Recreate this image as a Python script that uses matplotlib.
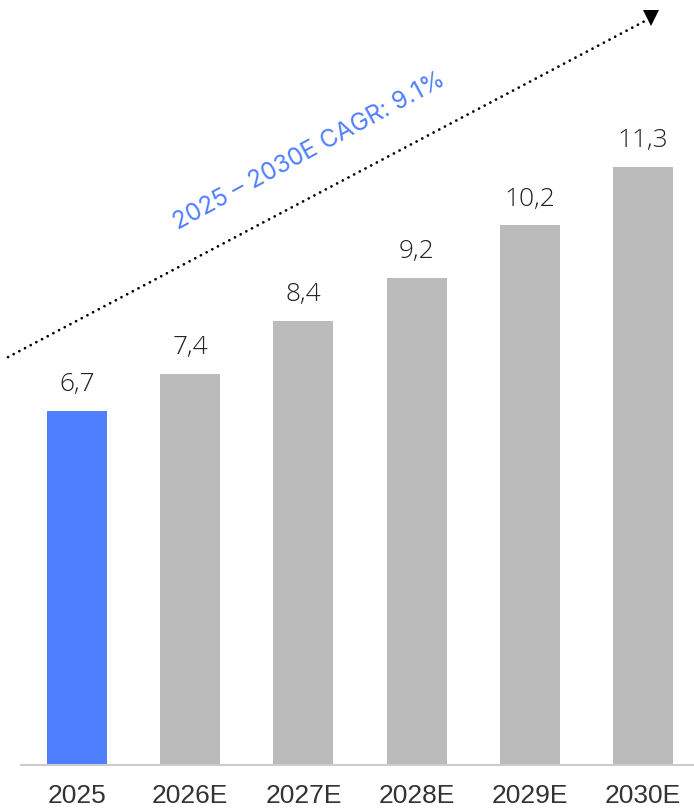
import matplotlib
matplotlib.use("Agg")
import matplotlib.pyplot as plt

categories = ["2025", "2026E", "2027E", "2028E", "2029E", "2030E"]
values = [6.7, 7.4, 8.4, 9.2, 10.2, 11.3]
value_labels = ["6,7", "7,4", "8,4", "9,2", "10,2", "11,3"]
cagr_label = "2025 – 2030E CAGR: 9.1%"

BLUE = "#4F7FFF"
GRAY = "#BBBBBB"

W, H = 694, 809
fig = plt.figure(figsize=(W / 100, H / 100), dpi=100)
ax = fig.add_axes([21 / W, 1 - 765 / H, 1 - 21 / W, 765 / H])

x = list(range(len(categories)))
colors = [BLUE] + [GRAY] * (len(categories) - 1)
ax.bar(x, values, width=0.53, color=colors, zorder=2)

ax.set_xlim(-0.495, 5.45)
ax.set_ylim(0, 765 / 52.9)

for xi, v, lab in zip(x, values, value_labels):
    ax.annotate(lab, (xi, v), xytext=(0, 10), textcoords="offset points",
                ha="center", va="bottom", fontsize=19, color="#222222",
                family="Open Sans", fontweight="light")

ax.set_xticks(x)
ax.set_xticklabels(categories, fontsize=19, color="#333333", family="Liberation Sans")
ax.tick_params(axis="x", length=0, pad=14)
ax.set_yticks([])
for s in ["top", "right", "left"]:
    ax.spines[s].set_visible(False)
ax.spines["bottom"].set_color("#CCCCCC")
ax.spines["bottom"].set_linewidth(1.5)

# CAGR arrow (dotted line + triangle head)
x0, y0 = -0.61, 7.71
x1, y1 = 5.03, 14.08
ax.plot([x0, x1], [y0, y1], linestyle=(0, (0.01, 2.3)), dash_capstyle="round",
        linewidth=2.0, color="black", clip_on=False, zorder=3)
ax.plot([5.07], [14.13], marker="v", markersize=11, color="black",
        clip_on=False, zorder=3, markeredgewidth=0)

ax.text(2.05, 11.6, cagr_label, rotation=28.5, rotation_mode="anchor",
        ha="center", va="center", fontsize=17.5, color=BLUE, family="Inter",
        fontweight="normal")

fig.savefig("out.png", dpi=100)
